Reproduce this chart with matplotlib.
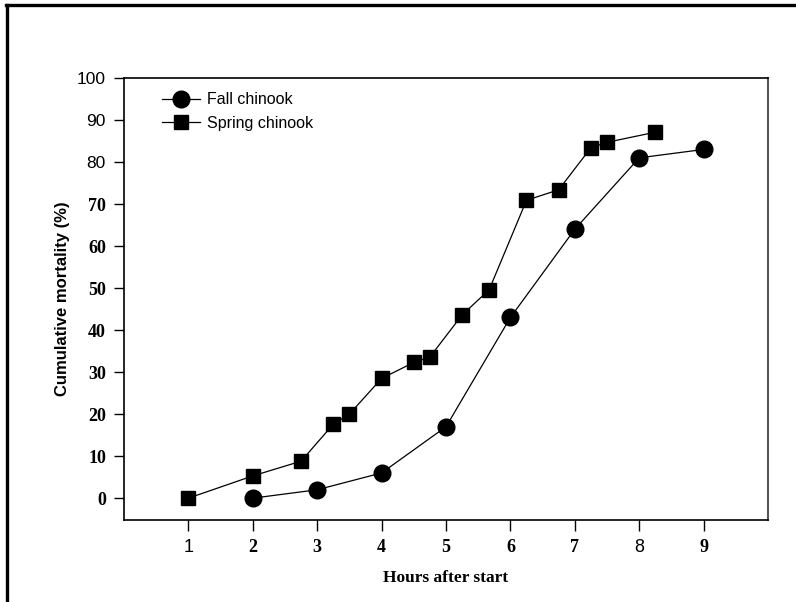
import matplotlib
matplotlib.use('Agg')
import matplotlib.pyplot as plt
from matplotlib.lines import Line2D

# ----------------------------------------
# Data
# ----------------------------------------
fall_hours = [2, 3, 4, 5, 6, 7, 8, 9]
fall_mortality = [0, 2, 6, 17, 43, 64, 81, 83]

spring_hours = [1, 2, 2.75, 3.25, 3.5, 4, 4.5, 4.75, 5.25, 5.67,
                6.25, 6.75, 7.25, 7.5, 8.25]
spring_mortality = [0, 5.3, 8.8, 17.6, 20, 28.5, 32.3, 33.6, 43.6, 49.6,
                    70.9, 73.4, 83.4, 84.7, 87.1]

x_ticks = [1, 2, 3, 4, 5, 6, 7, 8, 9]
y_ticks = [0, 10, 20, 30, 40, 50, 60, 70, 80, 90, 100]

# ----------------------------------------
# Figure layout
# ----------------------------------------
fig = plt.figure(figsize=(7.96, 6.02), dpi=100)
ax = fig.add_axes([0.1558, 0.1362, 0.8090, 0.7342])

# outer frame (only top and left edges visible in the scan)
fig.add_artist(Line2D([0.008, 1.0], [0.9917, 0.9917], color='black', lw=2.4,
                      transform=fig.transFigure))
fig.add_artist(Line2D([0.0088, 0.0088], [0.0, 0.9917], color='black', lw=2.4,
                      transform=fig.transFigure))

# ----------------------------------------
# Plot the series
# ----------------------------------------
ax.plot(fall_hours, fall_mortality, color='black', lw=0.9, marker='o',
        markersize=12, label='Fall chinook')
ax.plot(spring_hours, spring_mortality, color='black', lw=0.9, marker='s',
        markersize=10, label='Spring chinook')

ax.set_xlim(0, 10)
ax.set_ylim(-5.2, 100)
ax.set_xticks(x_ticks)
ax.set_yticks(y_ticks)
ax.set_xticklabels([str(v) for v in x_ticks])
ax.set_yticklabels([str(v) for v in y_ticks])

ax.tick_params(axis='x', direction='out', length=8, width=1.0, pad=6)
ax.tick_params(axis='y', direction='out', length=7, width=1.0, pad=6)

# mixed fonts as in the scanned original
for lab in ax.get_xticklabels():
    if lab.get_text() in ('1', '8'):
        lab.set_fontfamily('Liberation Sans')
        lab.set_fontsize(13)
    else:
        lab.set_fontfamily('Liberation Serif')
        lab.set_fontweight('bold')
        lab.set_fontsize(13)
for lab in ax.get_yticklabels():
    if lab.get_text() in ('80', '90', '100'):
        lab.set_fontfamily('Liberation Sans')
        lab.set_fontsize(12.5)
    else:
        lab.set_fontfamily('Liberation Serif')
        lab.set_fontweight('bold')
        lab.set_fontsize(13)

for side in ['left', 'bottom', 'top']:
    ax.spines[side].set_color('black')
    ax.spines[side].set_linewidth(1.2)
ax.spines['right'].set_color('#555555')
ax.spines['right'].set_linewidth(1.5)

ax.set_xlabel('Hours after start', fontfamily='Liberation Serif',
              fontweight='bold', fontsize=12.5, labelpad=10)
ax.set_ylabel('Cumulative mortality (%)', fontfamily='Liberation Sans',
              fontweight='bold', fontsize=12, labelpad=5)

ax.legend(loc='upper left', bbox_to_anchor=(0.059, 0.968), frameon=False,
          borderpad=0, borderaxespad=0, handlelength=2.4, handletextpad=0.4,
          labelspacing=0.55, prop={'family': 'Liberation Sans', 'size': 11.5})

plt.savefig('out.png', dpi=100)
